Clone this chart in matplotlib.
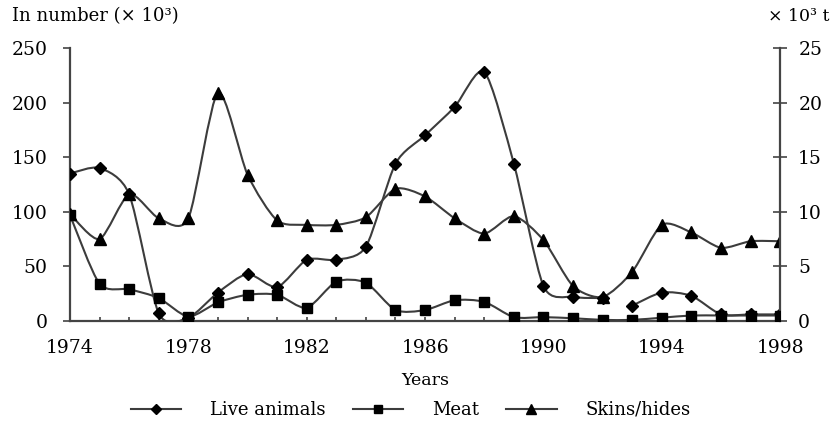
import matplotlib
matplotlib.use("Agg")
import matplotlib.pyplot as plt
from matplotlib.path import Path
from matplotlib.patches import PathPatch
from matplotlib.lines import Line2D

# values
years = list(range(1974, 1999))
live_animals = [135, 140, 116, 7, 3, 26, 43, 31, 56, 56, 68, 144, 170, 196, 228,
                144, 32, 22, 21, 14, 26, 23, 6, 6, 6]          # number x 10^3
skins_hides = [98, 75, 116, 94, 94, 209, 134, 92, 88, 88, 95, 121, 114, 94, 80,
               96, 74, 32, 22, 45, 88, 81, 67, 73, 73]          # number x 10^3
meat = [9.7, 3.4, 2.9, 2.1, 0.4, 1.7, 2.4, 2.4, 1.2, 3.6, 3.5, 1.0, 1.0, 1.9, 1.75,
        0.35, 0.35, 0.25, 0.1, 0.1, 0.3, 0.5, 0.5, 0.5, 0.5]    # x 10^3 t
live_new_series_from = 1993   # live animals line restarts here

left_ticks = [0, 50, 100, 150, 200, 250]
right_ticks = [0, 5, 10, 15, 20, 25]
year_labels = [1974, 1978, 1982, 1986, 1990, 1994, 1998]

LINE = "#3c3c3c"
plt.rcParams["font.family"] = "DejaVu Serif"


def smooth_path(xs, ys, k=1 / 8):
    # smoothed line like the spreadsheet one: bezier segments through the points
    verts = [(xs[0], ys[0])]
    codes = [Path.MOVETO]
    n = len(xs)
    for i in range(n - 1):
        x0, y0 = xs[max(i - 1, 0)], ys[max(i - 1, 0)]
        x1, y1 = xs[i], ys[i]
        x2, y2 = xs[i + 1], ys[i + 1]
        x3, y3 = xs[min(i + 2, n - 1)], ys[min(i + 2, n - 1)]
        verts += [(x1 + (x2 - x0) * k, y1 + (y2 - y0) * k),
                  (x2 - (x3 - x1) * k, y2 - (y3 - y1) * k),
                  (x2, y2)]
        codes += [Path.CURVE4] * 3
    return Path(verts, codes)


def draw_series(ax, xs, ys, marker, ms, breaks=()):
    cuts = [0] + [xs.index(b) for b in breaks] + [len(xs)]
    for a, b in zip(cuts[:-1], cuts[1:]):
        ax.add_patch(PathPatch(smooth_path(xs[a:b], ys[a:b]), fill=False,
                               edgecolor=LINE, lw=1.5, zorder=3))
    ax.plot(xs, ys, ls="none", marker=marker, ms=ms, color="black", zorder=4)


fig = plt.figure(figsize=(8.38, 4.24), dpi=100)
ax = fig.add_axes([0.0835, 0.243, 0.8475, 0.644])
ax2 = ax.twinx()

draw_series(ax, years, live_animals, "D", 6, breaks=[live_new_series_from])
draw_series(ax, years, skins_hides, "^", 8)
draw_series(ax2, years, meat, "s", 7.5)

ax.set_xlim(1974, 1998)
ax.set_ylim(0, 250)
ax2.set_ylim(0, 25)

for a in (ax, ax2):
    a.spines["top"].set_visible(False)
    for s in ("left", "right", "bottom"):
        a.spines[s].set_color("#444444")
        a.spines[s].set_linewidth(1.6)
ax.spines["right"].set_visible(False)
ax2.spines["left"].set_visible(False)
ax2.spines["bottom"].set_visible(False)

ax.set_yticks(left_ticks)
ax2.set_yticks(right_ticks)
ax.set_xticks(year_labels)
ax.set_xticks(years, minor=True)
ax.tick_params(axis="y", direction="out", length=5, width=1.2, color="#444444",
               labelsize=13.5, pad=11)
ax2.tick_params(axis="y", direction="inout", length=10, width=1.2, color="#444444",
                labelsize=13.5, pad=8)
ax.tick_params(axis="x", which="both", direction="in", length=3, width=1.2,
               color="#444444", labelsize=13.5, pad=13)

ax.set_xlabel("Years", fontsize=12.5, labelpad=11)

fig.text(0.014, 0.962, "In number (× 10³)", fontsize=13, ha="left", va="center")
fig.text(0.917, 0.962, "× 10³ t", fontsize=12.5, ha="left", va="center")

handles = [Line2D([], [], color=LINE, lw=1.5, marker="D", ms=5, mfc="black", mec="black"),
           Line2D([], [], color=LINE, lw=1.5, marker="s", ms=6, mfc="black", mec="black"),
           Line2D([], [], color=LINE, lw=1.5, marker="^", ms=6.5, mfc="black", mec="black")]
fig.legend(handles, ["Live animals", "Meat", "Skins/hides"], loc="center",
           bbox_to_anchor=(0.49, 1 - 410 / 424), ncol=3, frameon=False, fontsize=13,
           handlelength=2.8, handletextpad=1.6, columnspacing=1.5)

fig.savefig("out.png", dpi=100)
